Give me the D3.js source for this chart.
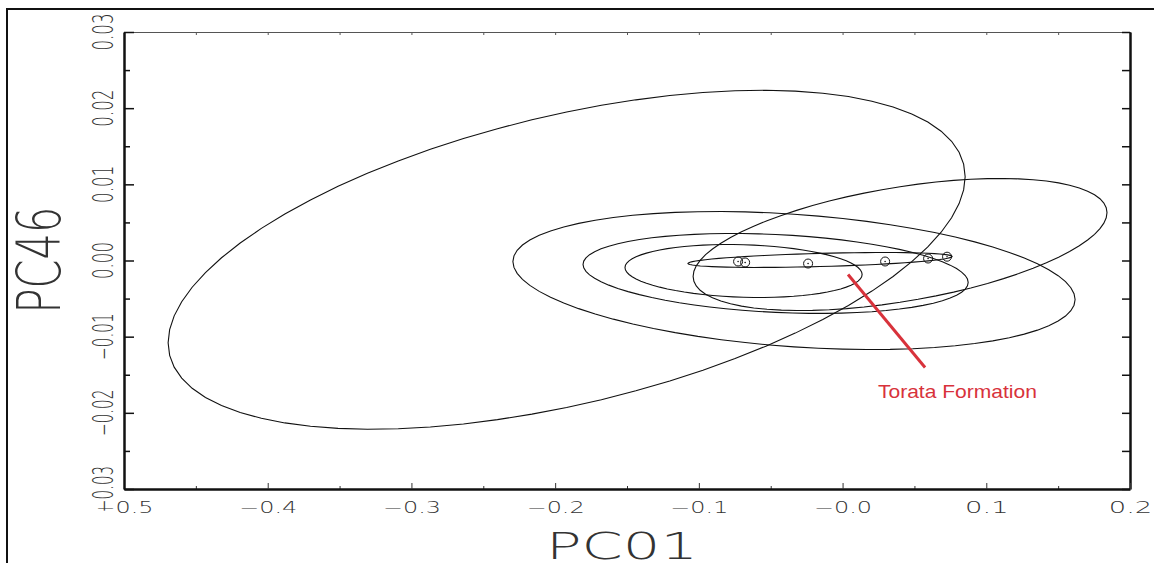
<!DOCTYPE html>
<html>
<head>
<meta charset="utf-8">
<title>PC01 vs PC46</title>
<script src="https://d3js.org/d3.v7.min.js"></script>
<style>
  body { margin: 0; background: #fff; }
  svg { display: block; }
</style>
</head>
<body>
<div id="chart"></div>
<script>
// ---- data ----
// group ellipses: centre, half width, half height, tilt (y at the right end, as fraction of half height)
var ellCx   = [-0.192, 0.040, -0.0338, -0.0466, -0.0689, -0.0157];
var ellCy   = [0.0001, 0.0021, -0.00263, -0.0017, -0.00138, 0.00007];
var ellRx   = [0.2773, 0.144, 0.1956, 0.134, 0.0825, 0.0919];
var ellRy   = [0.02225, 0.00867, 0.00906, 0.00525, 0.00348, 0.00098];
var ellTilt = [0.49, 0.483, -0.275, -0.225, -0.13, 0.47];

// group means (small circles)
var meanX = [-0.0727, -0.0678, -0.024, 0.0296, 0.0595, 0.0727];
var meanY = [-0.00013, -0.00026, -0.0004, -0.00013, 0.00026, 0.0005];

var xTicks = [-0.5, -0.4, -0.3, -0.2, -0.1, 0.0, 0.1, 0.2];
var xTickLabels = ["\u22120.5", "\u22120.4", "\u22120.3", "\u22120.2", "\u22120.1", "\u22120.0", "0.1", "0.2"];
var xMinor = [-0.45, -0.35, -0.25, -0.15, -0.05, 0.05, 0.15];

var yTicks = [-0.03, -0.02, -0.01, 0.00, 0.01, 0.02, 0.03];
var yTickLabels = ["\u22120.03", "\u22120.02", "\u22120.01", "0.00", "0.01", "0.02", "0.03"];
var yMinor = [-0.025, -0.015, -0.005, 0.005, 0.015, 0.025];

var width = 1154, height = 563;
var plotL = 124, plotR = 1130, plotT = 32, plotB = 489;

var svg = d3.select("#chart").append("svg")
    .attr("width", width)
    .attr("height", height);

// outer frame (left and top edges only)
svg.append("path")
    .attr("d", "M7,563V9H1154")
    .attr("fill", "none")
    .attr("stroke", "#111")
    .attr("stroke-width", 2);

var x = d3.scaleLinear().domain([-0.5, 0.2]).range([plotL, plotR]);
var y = d3.scaleLinear().domain([-0.03, 0.03]).range([plotB, plotT]);

var font = "'DejaVu Sans', sans-serif";

// top axis (thin)
svg.append("g")
    .attr("transform", "translate(0," + plotT + ")")
    .call(d3.axisTop(x).tickValues(xTicks.concat(xMinor)).tickSizeInner(-3).tickSizeOuter(0).tickFormat(""))
    .call(function(g) {
        g.select(".domain").attr("stroke", "#555").attr("stroke-width", 1);
        g.selectAll(".tick line").attr("stroke", "#555");
    });

// right axis
svg.append("g")
    .attr("transform", "translate(" + plotR + ",0)")
    .call(d3.axisRight(y).tickValues(yTicks.concat(yMinor)).tickSizeInner(-8).tickSizeOuter(0).tickFormat(""))
    .call(function(g) {
        g.select(".domain").attr("stroke", "#111").attr("stroke-width", 2.5);
        g.selectAll(".tick line").attr("stroke", "#111").attr("stroke-width", 1.5);
    });

// bottom axis: minor then major
svg.append("g")
    .attr("transform", "translate(0," + plotB + ")")
    .call(d3.axisBottom(x).tickValues(xMinor).tickSizeInner(-3).tickSizeOuter(0).tickFormat(""))
    .call(function(g) {
        g.select(".domain").remove();
        g.selectAll(".tick line").attr("stroke", "#333");
    });

svg.append("g")
    .attr("transform", "translate(0," + plotB + ")")
    .call(d3.axisBottom(x).tickValues(xTicks).tickSizeInner(-6).tickSizeOuter(0)
        .tickFormat(function(d, i) { return xTickLabels[i]; }))
    .call(function(g) {
        g.select(".domain").attr("stroke", "#111").attr("stroke-width", 2.5);
        g.selectAll(".tick line").attr("stroke", "#333");
        g.selectAll(".tick text")
            .attr("y", 19)
            .attr("dy", "0.35em")
            .attr("fill", "#333")
            .style("font-family", font)
            .style("font-weight", 200)
            .style("font-size", "15px")
            .attr("textLength", function(d, i) { return xTickLabels[i].length * 14.5; })
            .attr("lengthAdjust", "spacingAndGlyphs");
    });

// left axis: minor then major
svg.append("g")
    .attr("transform", "translate(" + plotL + ",0)")
    .call(d3.axisLeft(y).tickValues(yMinor).tickSizeInner(-6).tickSizeOuter(0).tickFormat(""))
    .call(function(g) {
        g.select(".domain").remove();
        g.selectAll(".tick line").attr("stroke", "#111").attr("stroke-width", 1.5);
    });

svg.append("g")
    .attr("transform", "translate(" + plotL + ",0)")
    .call(d3.axisLeft(y).tickValues(yTicks).tickSizeInner(-10).tickSizeOuter(0).tickFormat(""))
    .call(function(g) {
        g.select(".domain").attr("stroke", "#111").attr("stroke-width", 2.5);
        g.selectAll(".tick line").attr("stroke", "#111").attr("stroke-width", 1.5);
    });

// y tick labels, rotated
svg.append("g").selectAll("text")
    .data(yTicks)
    .join("text")
    .attr("transform", function(d) { return "translate(103," + y(d) + ") rotate(-90)"; })
    .attr("text-anchor", "middle")
    .attr("dy", "0.36em")
    .attr("fill", "#333")
    .style("font-family", font)
    .style("font-weight", 200)
    .style("font-size", "28px")
    .attr("textLength", function(d, i) { return yTickLabels[i].length * 9.3; })
    .attr("lengthAdjust", "spacingAndGlyphs")
    .text(function(d, i) { return yTickLabels[i]; });

// axis titles
svg.append("text")
    .attr("transform", "translate(60,260) rotate(-90)")
    .attr("text-anchor", "middle")
    .attr("fill", "#333")
    .style("font-family", font)
    .style("font-weight", 200)
    .style("font-size", "60px")
    .attr("textLength", 107)
    .attr("lengthAdjust", "spacingAndGlyphs")
    .text("PC46");

svg.append("text")
    .attr("x", 622)
    .attr("y", 559)
    .attr("text-anchor", "middle")
    .attr("fill", "#333")
    .style("font-family", font)
    .style("font-weight", 200)
    .style("font-size", "38px")
    .attr("textLength", 152)
    .attr("lengthAdjust", "spacingAndGlyphs")
    .text("PC01");

// ellipses
var steps = d3.range(0, 73).map(function(k) { return k * 2 * Math.PI / 72; });
var line = d3.line()
    .x(function(p) { return x(p[0]); })
    .y(function(p) { return y(p[1]); });

svg.append("g").selectAll("path")
    .data(ellCx)
    .join("path")
    .attr("d", function(cx, i) {
        var phi = Math.acos(ellTilt[i]);
        return line(steps.map(function(t) {
            return [cx + ellRx[i] * Math.cos(t), ellCy[i] + ellRy[i] * Math.cos(t - phi)];
        })) + "Z";
    })
    .attr("fill", "none")
    .attr("stroke", "#111")
    .attr("stroke-width", 1.1);

// group means
var means = svg.append("g").selectAll("g")
    .data(meanX)
    .join("g")
    .attr("transform", function(d, i) { return "translate(" + x(d) + "," + y(meanY[i]) + ")"; });
means.append("circle").attr("r", 4.5).attr("fill", "none").attr("stroke", "#111").attr("stroke-width", 1);
means.append("circle").attr("r", 0.8).attr("fill", "#111");

// annotation
svg.append("line")
    .attr("x1", x(0.0038)).attr("y1", y(-0.00184))
    .attr("x2", x(0.0574)).attr("y2", y(-0.01405))
    .attr("stroke", "#d8323b")
    .attr("stroke-width", 3);

svg.append("text")
    .attr("x", x(0.0246))
    .attr("y", y(-0.0180))
    .attr("fill", "#d8323b")
    .style("font-family", "'Liberation Sans', Arial, sans-serif")
    .style("font-size", "19px")
    .attr("textLength", 159)
    .attr("lengthAdjust", "spacingAndGlyphs")
    .text("Torata Formation");
</script>
</body>
</html>
